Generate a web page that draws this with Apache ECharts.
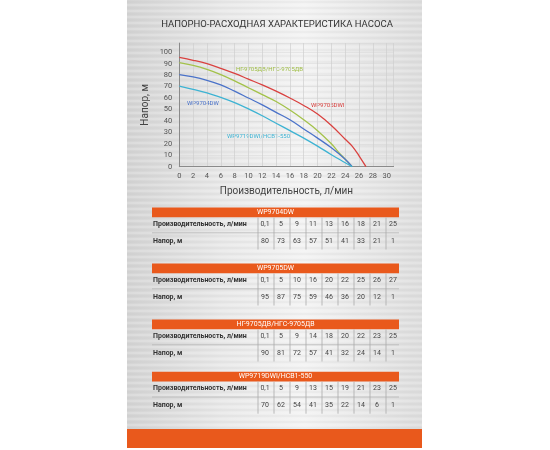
<!DOCTYPE html>
<html><head><meta charset="utf-8">
<script src="https://cdn.jsdelivr.net/npm/echarts@6/dist/echarts.min.js"></script>
<style>html,body{margin:0;padding:0;background:#fff}#c{width:550px;height:450px}</style>
</head><body><div id="c"></div>
<script>
const title = 'НАПОРНО-РАСХОДНАЯ ХАРАКТЕРИСТИКА НАСОСА';
const xName = 'Производительность, л/мин';
const yName = 'Напор, м';
const rowFlow = 'Производительность, л/мин';
const rowHead = 'Напор, м';

const names = ['WP9704DW', 'WP9705DW', 'НГ-9705ДВ/НГС-9705ДВ', 'WP9719DWI/HCB1-550'];
const chartNames = ['WP9704DW', 'WP9705DWI', 'НГ-9705ДВ/НГС-9705ДВ', 'WP9719DWI/HCB1-550'];
const colors = ['#4a72c9', '#d9413f', '#a3c24a', '#3db3d3'];

// table values
const flow1 = ['0,1', '5', '9', '11', '13', '16', '18', '21', '25'];
const head1 = [80, 73, 63, 57, 51, 41, 33, 21, 1];
const flow2 = ['0,1', '5', '10', '16', '20', '22', '25', '26', '27'];
const head2 = [95, 87, 75, 59, 46, 36, 20, 12, 1];
const flow3 = ['0,1', '5', '9', '14', '18', '20', '22', '23', '25'];
const head3 = [90, 81, 72, 57, 41, 32, 24, 14, 1];
const flow4 = ['0,1', '5', '9', '13', '15', '19', '21', '23', '25'];
const head4 = [70, 62, 54, 41, 35, 22, 14, 6, 1];

// curves
const curveX1 = [0, 2, 4, 6, 8, 10, 12, 14, 16, 18, 20, 22, 24, 25];
const curveY1 = [80.5, 78.5, 75.5, 71.5, 66, 60, 54, 47.5, 41, 33, 25, 16.5, 6.5, 0];
const curveX2 = [0, 2, 4, 6, 8, 10, 12, 14, 16, 18, 20, 22, 24, 25, 26, 27];
const curveY2 = [95.5, 93, 90, 86, 81.5, 76.5, 71.5, 66, 60, 53.5, 46, 36, 24, 18, 9.5, 0];
const curveX3 = [0, 2, 4, 6, 8, 10, 12, 14, 16, 18, 20, 22, 23, 24, 25];
const curveY3 = [91, 88.5, 85, 80.5, 75, 69, 63, 57, 49.5, 41, 31.5, 20, 13, 6.5, 0];
const curveX4 = [0, 2, 4, 6, 8, 10, 12, 14, 16, 18, 20, 22, 24, 25];
const curveY4 = [70.5, 67.5, 64.5, 60.5, 56, 50.5, 44.5, 38, 31.5, 25, 18, 10.5, 3.5, 0];

const flows = [flow1, flow2, flow3, flow4];
const heads = [head1, head2, head3, head4];
const curveXs = [curveX1, curveX2, curveX3, curveX4];
const curveYs = [curveY1, curveY2, curveY3, curveY4];

const chart = echarts.init(document.getElementById('c'));
const FONT = 'Roboto';

const graphic = [];
graphic.push({type:'rect', z:-10, silent:true, shape:{x:127,y:0,width:295,height:448},
  style:{fill:new echarts.graphic.LinearGradient(0,0,1,0,[
    {offset:0,color:'#d4d4d4'},{offset:0.35,color:'#eaeaea'},{offset:0.6,color:'#f3f3f3'},{offset:1,color:'#dddddd'}])}});
for (let y = 2; y < 448; y += 3) {
  graphic.push({type:'line', z:-9, silent:true, shape:{x1:127,y1:y,x2:422,y2:y},
    style:{stroke: (y % 2 ? 'rgba(255,255,255,0.35)' : 'rgba(180,180,180,0.18)'), lineWidth:1}});
}
graphic.push({type:'rect', silent:true, shape:{x:127,y:429,width:295,height:19}, style:{fill:'#e9591c'}});
graphic.push({type:'text', silent:true, x:277, y:25, style:{text:title, font:'9.5px '+FONT, fill:'#333', align:'center', verticalAlign:'middle'}});

const labelPos = [[187,103.5],[311,105],[236,69.5],[227,136.5]];
const labelCol = ['#4a72c9', '#d9413f', '#9fbe45', '#3db3d3'];
chartNames.forEach((n,i)=>{
  graphic.push({type:'text', silent:true, x:labelPos[i][0], y:labelPos[i][1],
    style:{text:n, font:'6px '+FONT, fill:labelCol[i], verticalAlign:'middle'}});
});

const tableTops = [207.5, 263.5, 319.5, 371.7];
const tLeft = 152, tRight = 399, colStart = 258, colW = 16;
names.forEach((n, t) => {
  const T = tableTops[t];
  graphic.push({type:'rect', silent:true, shape:{x:tLeft, y:T, width:tRight-tLeft, height:9.7}, style:{fill:'#e9591c'}});
  graphic.push({type:'text', silent:true, x:(tLeft+tRight)/2, y:T+5, style:{text:n, font:'7px '+FONT, fill:'#fff', align:'center', verticalAlign:'middle'}});
  graphic.push({type:'line', silent:true, shape:{x1:tLeft,y1:T+25.3,x2:tRight,y2:T+25.3}, style:{stroke:'#b5b5b5', lineWidth:0.8}});
  graphic.push({type:'text', silent:true, x:tLeft+1, y:T+17, style:{text:rowFlow, font:'bold 7px '+FONT, fill:'#333', verticalAlign:'middle'}});
  graphic.push({type:'text', silent:true, x:tLeft+1, y:T+33.6, style:{text:rowHead, font:'bold 7px '+FONT, fill:'#333', verticalAlign:'middle'}});
  flows[t].forEach((f, j) => {
    const x0 = colStart + j*colW;
    graphic.push({type:'line', silent:true, shape:{x1:x0,y1:T+10,x2:x0,y2:T+42}, style:{stroke:'#a9a9a9', lineWidth:0.8}});
    graphic.push({type:'text', silent:true, x:x0+7, y:T+17, style:{text:f, font:'7px '+FONT, fill:'#444', align:'center', verticalAlign:'middle'}});
    graphic.push({type:'text', silent:true, x:x0+7, y:T+33.6, style:{text:String(heads[t][j]), font:'7px '+FONT, fill:'#444', align:'center', verticalAlign:'middle'}});
  });
});

const seriesOrder = [1, 2, 0, 3];
chart.setOption({
  animation:false,
  backgroundColor:'#ffffff',
  textStyle:{fontFamily:FONT},
  grid:{left:179.3, right:156.4, top:43.1, bottom:283.3, containLabel:false},
  xAxis:{type:'value', min:0, max:31, interval:2,
    name:xName, nameLocation:'middle', nameGap:20,
    nameTextStyle:{fontSize:10, color:'#444', fontFamily:FONT},
    axisLine:{show:true, lineStyle:{color:'#8a8a8a', width:1}},
    axisTick:{show:false},
    axisLabel:{fontSize:7.5, color:'#555', margin:5, showMaxLabel:false, formatter:v=> v%2===0 && v<=30 ? String(v) : ''},
    splitLine:{show:true, lineStyle:{color:'#cfcfcf', width:0.7}}},
  yAxis:{type:'value', min:0, max:108, interval:10,
    name:yName, nameLocation:'middle', nameGap:29,
    nameTextStyle:{fontSize:10, color:'#444', fontFamily:FONT},
    axisLine:{show:true, lineStyle:{color:'#8a8a8a', width:1}},
    axisTick:{show:false},
    axisLabel:{fontSize:7.5, color:'#555', margin:7, showMaxLabel:false, formatter:v=> v%10===0 && v<=100 ? String(v) : ''},
    splitLine:{show:true, lineStyle:{color:'#d6d6d6', width:0.5}}},
  series: seriesOrder.map(i => ({
    type:'line', name:chartNames[i], smooth:0.4, symbol:'none',
    lineStyle:{color:colors[i], width:1.3},
    data: curveXs[i].map((x, j) => [x, curveYs[i][j]])
  })),
  graphic: graphic
});
</script>
</body></html>
